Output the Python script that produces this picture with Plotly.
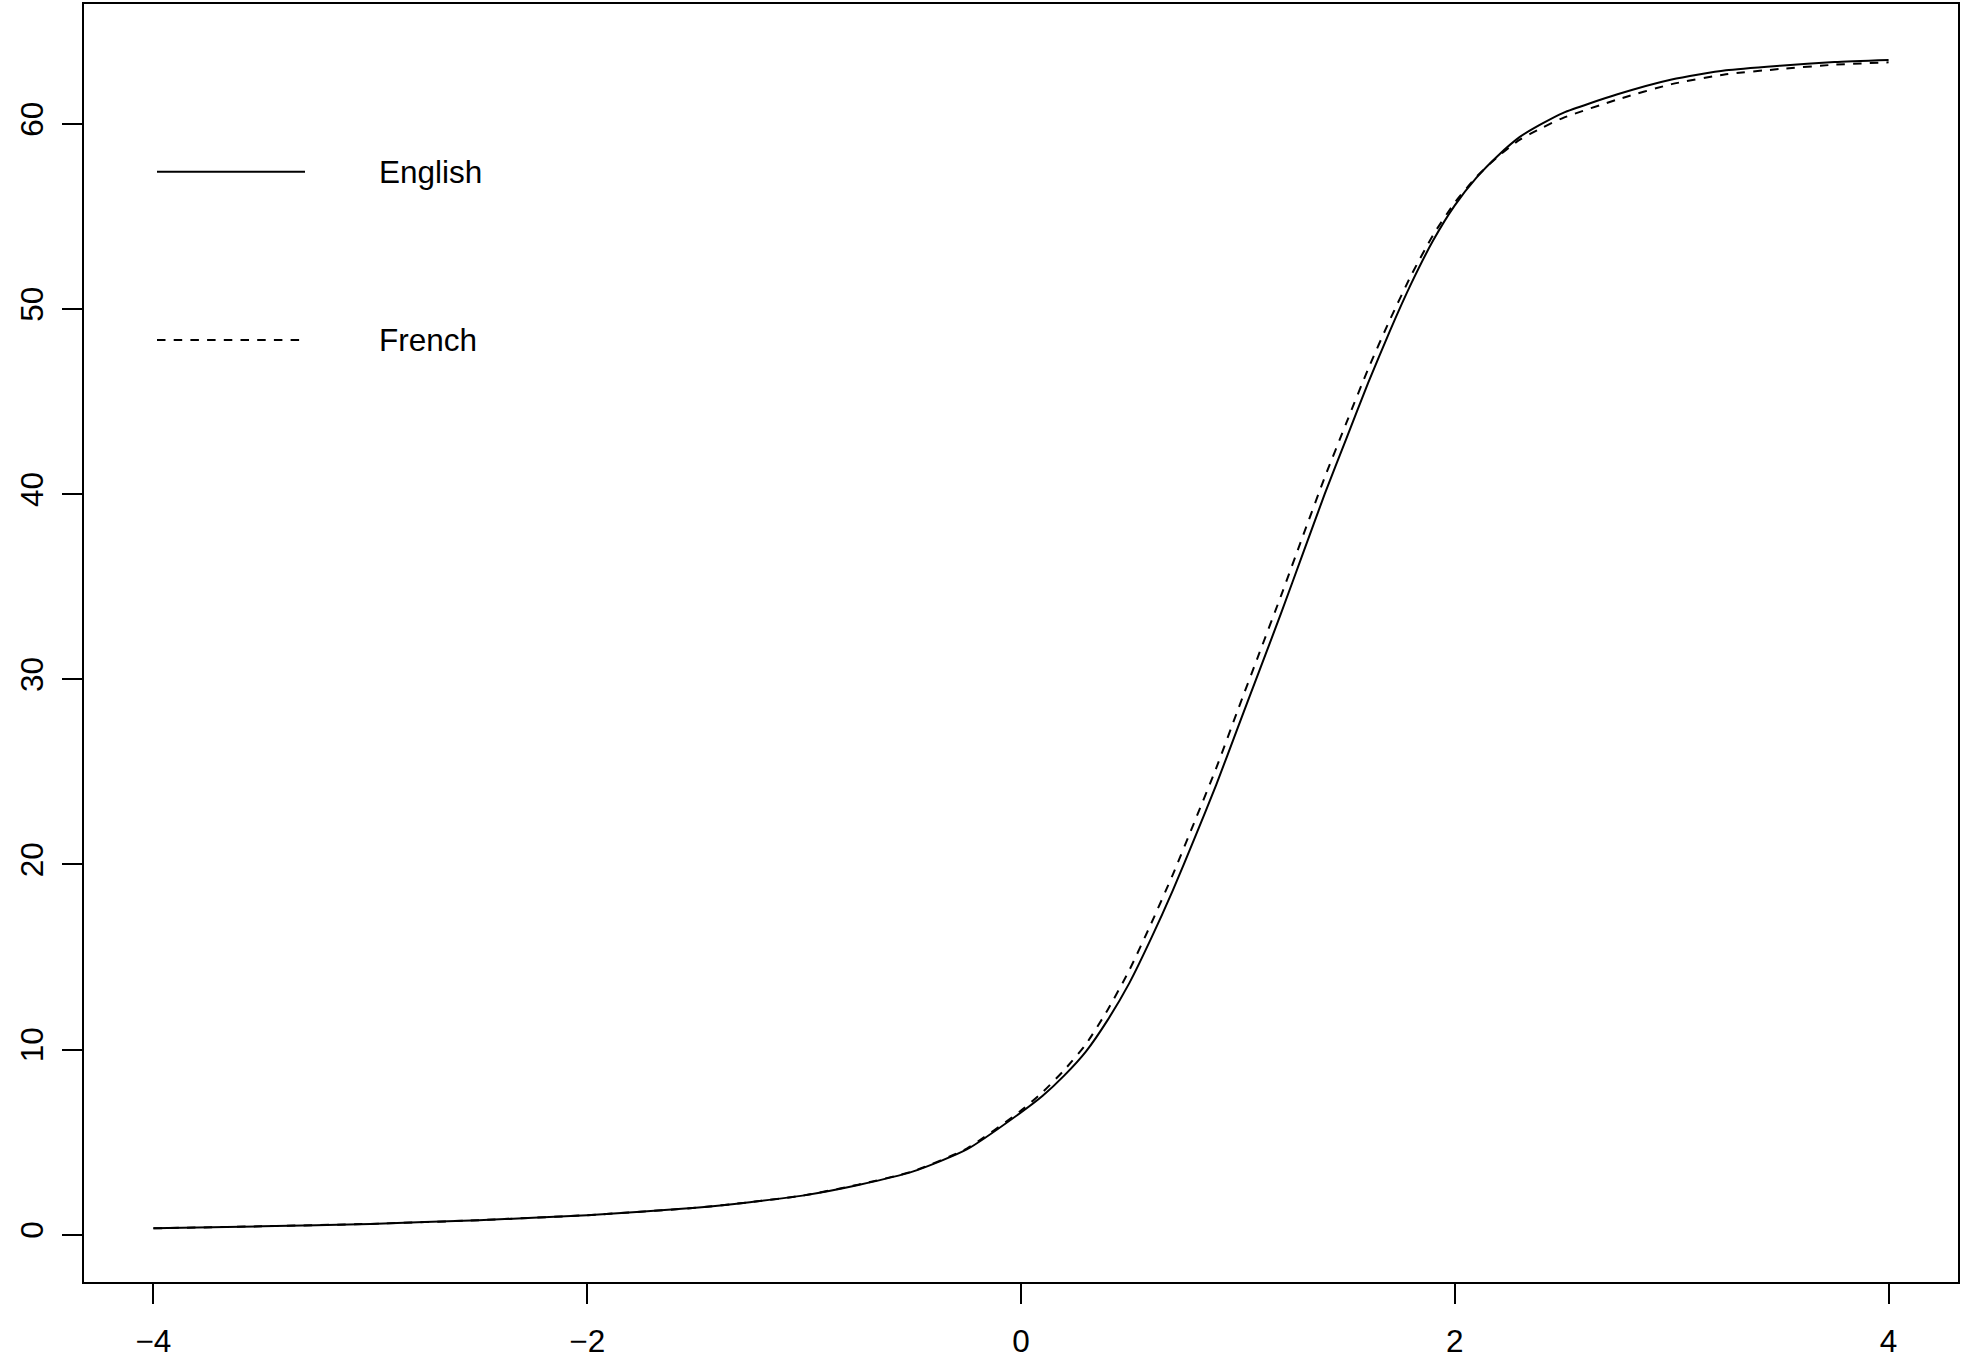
import plotly.graph_objects as go

# ---- data ----
theta = [-4, -3.5, -3, -2.5, -2, -1.5, -1.25, -1, -0.75, -0.5, -0.25, 0,
         0.1, 0.2, 0.3, 0.4, 0.5, 0.6, 0.7, 0.8, 0.9, 1.0, 1.1, 1.2, 1.3,
         1.4, 1.5, 1.6, 1.7, 1.8, 1.9, 2.0, 2.1, 2.2, 2.3, 2.4, 2.5, 2.75,
         3.0, 3.25, 3.5, 3.75, 4.0]
english = [0.34, 0.45, 0.58, 0.78, 1.05, 1.45, 1.75, 2.12, 2.68, 3.4, 4.6, 6.6,
           7.5, 8.6, 9.9, 11.6, 13.6, 16.0, 18.6, 21.4, 24.3, 27.4, 30.5, 33.6, 36.8,
           40.0, 43.0, 46.0, 48.8, 51.4, 53.7, 55.6, 57.1, 58.3, 59.3, 60.0, 60.6, 61.6,
           62.4, 62.9, 63.15, 63.35, 63.46]
french = [0.34, 0.45, 0.58, 0.78, 1.05, 1.45, 1.75, 2.12, 2.7, 3.42, 4.65, 6.7,
          7.7, 8.9, 10.3, 12.15, 14.3, 16.8, 19.45, 22.3, 25.2, 28.35, 31.45, 34.55, 37.75,
          40.9, 43.85, 46.75, 49.4, 51.85, 54.0, 55.75, 57.15, 58.25, 59.15, 59.78, 60.33, 61.32,
          62.15, 62.68, 62.97, 63.2, 63.33]
series_names = ["English", "French"]
x_ticks = [-4, -2, 0, 2, 4]
x_tick_labels = ["\u22124", "\u22122", "0", "2", "4"]
y_ticks = [0, 10, 20, 30, 40, 50, 60]
y_tick_labels = ["0", "10", "20", "30", "40", "50", "60"]

W, H = 1965, 1356
L, R, T, B = 84, 1958, 4, 1282
FONT = dict(family="Liberation Sans, Arial, sans-serif", size=31.5, color="black")
DASH = "8.5px,8.2px"

fig = go.Figure()
fig.add_trace(go.Scatter(x=theta, y=english, mode="lines", name=series_names[0],
                         line=dict(color="black", width=2, shape="spline", smoothing=0.6)))
fig.add_trace(go.Scatter(x=theta, y=french, mode="lines", name=series_names[1],
                         line=dict(color="black", width=2, dash=DASH, shape="spline", smoothing=0.6)))

def px_x(p):
    return (p - L) / (R - L)

def px_y(p):
    return (B - p) / (B - T)

# manual legend (R style)
legend_rows = [(171.7, None), (340.0, DASH)]
for (py, dash), name in zip(legend_rows, series_names):
    fig.add_shape(type="line", xref="paper", yref="paper",
                  x0=px_x(157), x1=px_x(305), y0=px_y(py), y1=px_y(py),
                  line=dict(color="black", width=2, dash=dash))
    fig.add_annotation(xref="paper", yref="paper", x=px_x(377), y=px_y(py),
                       text=name, showarrow=False, xanchor="left", yanchor="middle",
                       font=FONT)

fig.update_layout(
    width=W, height=H,
    margin=dict(l=L, r=W - R, t=T, b=H - B, pad=0, autoexpand=False),
    paper_bgcolor="white", plot_bgcolor="white",
    showlegend=False,
    font=FONT,
)
fig.update_xaxes(range=[-4.32, 4.32], tickvals=x_ticks, ticktext=x_tick_labels,
                 showgrid=False, zeroline=False, showline=True, mirror=True,
                 linecolor="black", linewidth=2, ticks="outside", ticklen=20,
                 tickwidth=2, tickcolor="black", tickfont=FONT, ticklabelstandoff=10,
                 automargin=False)
fig.update_yaxes(range=[-2.56, 66.48], tickvals=y_ticks, ticktext=y_tick_labels,
                 showgrid=False, zeroline=False, showline=True, mirror=True,
                 linecolor="black", linewidth=2, ticks="outside", ticklen=20,
                 tickwidth=2, tickcolor="black", tickfont=FONT, tickangle=-90,
                 ticklabelstandoff=6, automargin=False)

fig.write_html("out.html", config={"displayModeBar": False},
               post_script="document.body.style.margin='0';document.body.style.padding='0';")
